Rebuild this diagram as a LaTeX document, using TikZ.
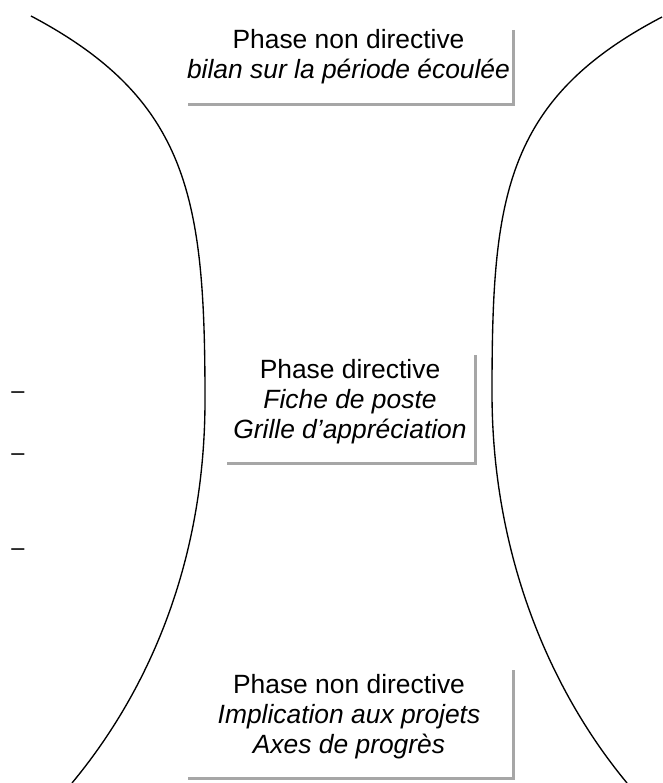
\documentclass[tikz,border=0pt]{standalone}
\usepackage{fontspec}
\setmainfont{Liberation Sans}
\definecolor{shadowgray}{HTML}{A6A6A6}
\begin{document}
\begin{tikzpicture}[x=1pt,y=-1pt,
  phase/.style={align=center,inner sep=0pt,anchor=north,font=\fontsize{26.4}{30}\selectfont},
  frame/.style={draw=none,inner sep=0pt,anchor=north west},
  shade/.style={draw=shadowgray,line width=2.5pt},
  curve/.style={draw=black,line width=1.35pt},
  dashmark/.style={inner sep=0pt,anchor=base,font=\fontsize{23.5}{26}\selectfont}]
\useasboundingbox (0,0) rectangle (662,783);
% frames (shadow only)
\node[frame,minimum width=325pt,minimum height=74pt] (b1) at (188,30) {};
\node[frame,minimum width=248pt,minimum height=108pt] (b2) at (227,355) {};
\node[frame,minimum width=325pt,minimum height=108pt] (b3) at (188,670) {};
\draw[shade] (b1.north east) -- (b1.south east) -- (b1.south west);
\draw[shade] (b2.north east) -- (b2.south east) -- (b2.south west);
\draw[shade] (b3.north east) -- (b3.south east) -- (b3.south west);
% texts
\node[phase] (t1) at (348.5,29) {Phase non directive\\\itshape bilan sur la période écoulée};
\node[phase] (t2) at (350,359) {Phase directive\\\itshape Fiche de poste\\\itshape Grille d’appréciation};
\node[phase] (t3) at (349,674) {Phase non directive\\\itshape Implication aux projets\\\itshape Axes de progrès};
% dashes
\node[dashmark] (d1) at (18,398) {–};
\node[dashmark] (d2) at (18,460) {–};
\node[dashmark] (d3) at (18,555) {–};
% curves
\coordinate (l0) at (31,16);
\coordinate (l1) at (205,400);
\coordinate (l2) at (72,783);
\coordinate (r0) at (662,17);
\coordinate (r1) at (492,393);
\coordinate (r2) at (627,783);
\draw[curve] (l0) .. controls (190,100) and (205,200) .. (l1)
  .. controls (205,560) and (150,689) .. (l2);
\draw[curve] (r0) .. controls (503,100) and (492,200) .. (r1)
  .. controls (492,553) and (549,689) .. (r2);
\end{tikzpicture}
\end{document}
